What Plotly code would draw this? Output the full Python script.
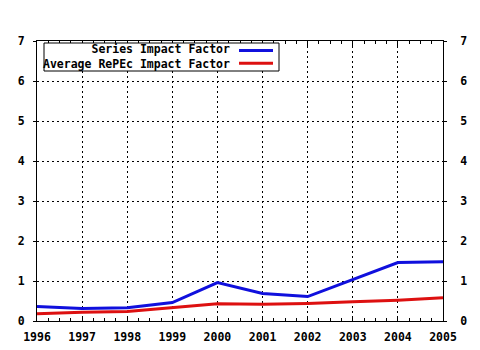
import plotly.graph_objects as go

years = [1996, 1997, 1998, 1999, 2000, 2001, 2002, 2003, 2004, 2005]
series_if = [0.36, 0.31, 0.33, 0.46, 0.96, 0.69, 0.61, 1.03, 1.46, 1.48]
average_if = [0.18, 0.22, 0.24, 0.34, 0.43, 0.42, 0.44, 0.48, 0.52, 0.58]
series_names = ["Series Impact Factor", "Average RePEc Impact Factor"]
colors = ["#1010dd", "#dd1010"]
y_ticks = [0, 1, 2, 3, 4, 5, 6, 7]

W, H = 480, 350
L, R, T, B = 37, 37, 41, 29
PW, PH = W - L - R, H - T - B


def px(x):
    return (x - L) / PW


def py(y):
    return (H - B - y) / PH


mono = "DejaVu Sans Mono"
tfont = dict(family=mono, size=11.5, color="black", weight="bold")

fig = go.Figure()
for name, vals, c in zip(series_names, [series_if, average_if], colors):
    fig.add_trace(go.Scatter(x=years, y=vals, mode="lines", name=name,
                             line=dict(color=c, width=3), showlegend=False))
# invisible trace for right axis
fig.add_trace(go.Scatter(x=years, y=series_if, yaxis="y2", mode="lines",
                         line=dict(width=0), opacity=0, showlegend=False,
                         hoverinfo="skip"))

# custom legend (symbol on the right)
shapes = [dict(type="rect", xref="paper", yref="paper",
               x0=px(44), x1=px(279), y0=py(71), y1=py(43),
               line=dict(color="black", width=1), fillcolor="white", layer="above")]
for i, c in enumerate(colors):
    yc = 50.5 + i * 12.7
    shapes.append(dict(type="line", xref="paper", yref="paper",
                       x0=px(239), x1=px(273), y0=py(yc), y1=py(yc),
                       line=dict(color=c, width=3), layer="above"))
annotations = [dict(text="<br>".join(series_names), xref="paper", yref="paper",
                    x=px(232), y=py(56.4), xanchor="right", yanchor="middle", align="right",
                    showarrow=False, font=tfont)]

fig.update_layout(
    width=W, height=H,
    margin=dict(l=L, r=R, t=T, b=B, pad=0, autoexpand=False),
    paper_bgcolor="white", plot_bgcolor="white",
    shapes=shapes, annotations=annotations,
    xaxis=dict(range=[1996, 2005], tickvals=years, ticktext=[str(y) for y in years],
               showline=True, linecolor="black", linewidth=1, mirror="ticks",
               ticks="inside", ticklen=5, tickcolor="black",
               minor=dict(dtick=0.25, ticks="inside", ticklen=3, tickcolor="black", showgrid=False),
               showgrid=True, gridcolor="black", gridwidth=1, griddash="2px,3px",
               tickfont=tfont, ticklabelstandoff=5, zeroline=False, fixedrange=True,
               automargin=False),
    yaxis=dict(range=[0, 7], tickvals=y_ticks,
               showline=True, linecolor="black", linewidth=1, mirror=True,
               ticks="outside", ticklen=3, tickcolor="black",
               showgrid=True, gridcolor="black", gridwidth=1, griddash="2px,3px",
               tickfont=tfont, ticklabelstandoff=6, zeroline=False, fixedrange=True,
               automargin=False),
    yaxis2=dict(range=[0, 7], tickvals=y_ticks, overlaying="y", side="right",
                showline=True, linecolor="black", linewidth=1,
                ticks="outside", ticklen=3, tickcolor="black",
                showgrid=False, tickfont=tfont, ticklabelstandoff=11,
                zeroline=False, fixedrange=True, automargin=False),
)

fig.write_html("out.html")
